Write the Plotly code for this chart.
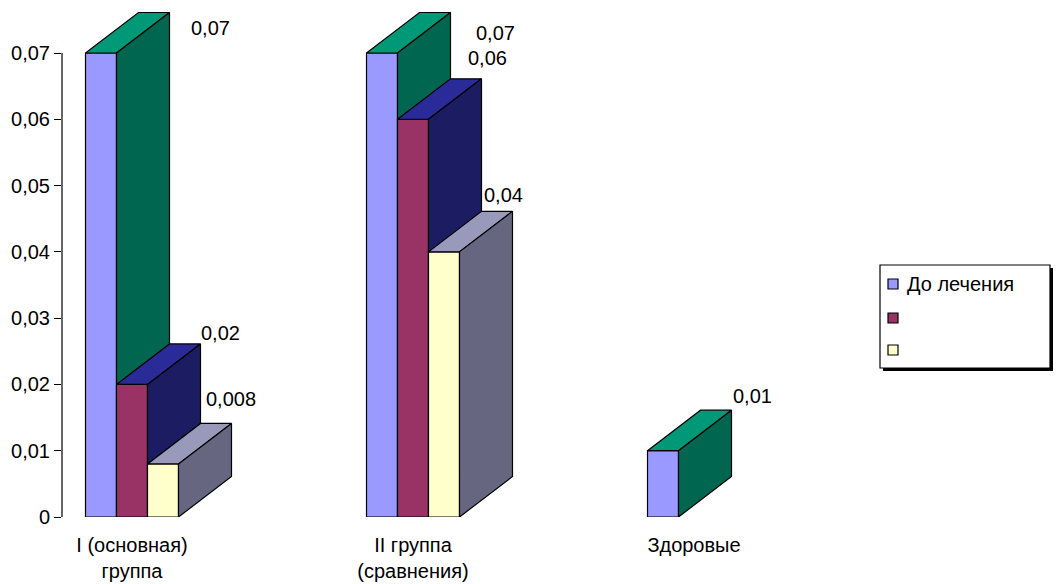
import plotly.graph_objects as go

# --- data ---------------------------------------------------------------
categories = ["I (основная)<br>группа", "II группа<br>(сравнения)", "Здоровые"]
series_names = ["До лечения", "", ""]
before = [0.07, 0.07, 0.01]
middle = [0.02, 0.06, None]
after = [0.008, 0.04, None]
y_ticks = [0, 0.01, 0.02, 0.03, 0.04, 0.05, 0.06, 0.07]
y_tick_text = ["0", "0,01", "0,02", "0,03", "0,04", "0,05", "0,06", "0,07"]

series_values = [before, middle, after]

# --- styling ------------------------------------------------------------
FONT = "Liberation Sans, Arial, sans-serif"
face_colors = [
    # front, top, side
    ("#9999FF", "#009977", "#006650"),
    ("#993366", "#2A2A99", "#1C1C62"),
    ("#FFFFCC", "#9999BB", "#666680"),
]

# pixel geometry of the drawing area
PLOT_L, PLOT_R, PLOT_T, PLOT_B = 62, 862, 0, 517
PX_PER_X = 281.0          # pixels per category step
PX_PER_Y = 6628.6         # pixels per value unit
BAR_W = 31 / PX_PER_X     # bar width in category units
DEPTH_X = 53 / PX_PER_X   # 3-D depth offset, horizontal
DEPTH_Y = 40.5 / PX_PER_Y # 3-D depth offset, vertical

x_min = -(132 - PLOT_L) / PX_PER_X
x_max = x_min + (PLOT_R - PLOT_L) / PX_PER_X
y_max = (PLOT_B - PLOT_T) / PX_PER_Y

# pixel shifts of value labels from each bar's back-top-right corner
label_shift = [
    [(41, -15), (45, -20), (21, 14)],
    [(20, 11), (6, 21), None],
    [(-1, 24), (-9, 16), None],
]

# legend box (pixels): left, top, right, bottom and row centres
LEG_L, LEG_T, LEG_R, LEG_B = 880, 265, 1050, 368
LEG_ROWS = [284, 318, 350]
LEG_SWATCH = 10


def px_to_paper_x(px):
    return (px - PLOT_L) / (PLOT_R - PLOT_L)


def px_to_paper_y(py):
    return (PLOT_B - py) / (PLOT_B - PLOT_T)


fig = go.Figure()
annotations = []

for s, values in enumerate(series_values):
    fronts_x, fronts_y, tops_x, tops_y, sides_x, sides_y = [], [], [], [], [], []
    for g, v in enumerate(values):
        if v is None:
            continue
        x0 = g - 1.5 * BAR_W + s * BAR_W
        x1 = x0 + BAR_W
        fronts_x += [x0, x1, x1, x0, x0, None]
        fronts_y += [0, 0, v, v, 0, None]
        tops_x += [x0, x1, x1 + DEPTH_X, x0 + DEPTH_X, x0, None]
        tops_y += [v, v, v + DEPTH_Y, v + DEPTH_Y, v, None]
        sides_x += [x1, x1 + DEPTH_X, x1 + DEPTH_X, x1, x1, None]
        sides_y += [0, DEPTH_Y, v + DEPTH_Y, v, 0, None]

        dx_px, dy_px = label_shift[s][g]
        annotations.append(dict(
            x=x1 + DEPTH_X, y=v + DEPTH_Y, xref="x", yref="y",
            text=f"{v:g}".replace(".", ","), showarrow=False,
            xshift=dx_px, yshift=dy_px,
            font=dict(family=FONT, size=20, color="black"),
        ))

    for xs, ys, col in ((fronts_x, fronts_y, face_colors[s][0]),
                        (tops_x, tops_y, face_colors[s][1]),
                        (sides_x, sides_y, face_colors[s][2])):
        fig.add_trace(go.Scatter(
            x=xs, y=ys, mode="lines", fill="toself", fillcolor=col,
            line=dict(color="black", width=1.2), showlegend=False,
            hoverinfo="skip", name=series_names[s] or f"series {s + 1}",
        ))

shapes = [
    # value axis line
    dict(type="line", xref="paper", yref="y", x0=0, x1=0, y0=0, y1=0.07,
         line=dict(color="black", width=1.2)),
    # legend drop shadow and frame
    dict(type="rect", xref="paper", yref="paper",
         x0=px_to_paper_x(LEG_L + 3), x1=px_to_paper_x(LEG_R + 3),
         y0=px_to_paper_y(LEG_B + 3), y1=px_to_paper_y(LEG_T + 3),
         fillcolor="black", line=dict(width=0), layer="above"),
    dict(type="rect", xref="paper", yref="paper",
         x0=px_to_paper_x(LEG_L), x1=px_to_paper_x(LEG_R),
         y0=px_to_paper_y(LEG_B), y1=px_to_paper_y(LEG_T),
         fillcolor="white", line=dict(color="black", width=1.2), layer="above"),
]

# legend swatches and labels
for s, (name, row) in enumerate(zip(series_names, LEG_ROWS)):
    sx0 = LEG_L + 8
    shapes.append(dict(
        type="rect", xref="paper", yref="paper",
        x0=px_to_paper_x(sx0), x1=px_to_paper_x(sx0 + LEG_SWATCH),
        y0=px_to_paper_y(row + LEG_SWATCH / 2), y1=px_to_paper_y(row - LEG_SWATCH / 2),
        fillcolor=face_colors[s][0], line=dict(color="black", width=1.2),
        layer="above",
    ))
    if name:
        annotations.append(dict(
            x=px_to_paper_x(sx0 + LEG_SWATCH + 7), y=px_to_paper_y(row),
            xref="paper", yref="paper", xanchor="left", yanchor="middle",
            text=name, showarrow=False,
            font=dict(family=FONT, size=20, color="black"),
        ))

fig.update_layout(
    width=1057, height=584,
    margin=dict(l=PLOT_L, r=1057 - PLOT_R, t=PLOT_T, b=584 - PLOT_B, pad=0),
    paper_bgcolor="white", plot_bgcolor="white",
    font=dict(family=FONT, size=20, color="black"),
    xaxis=dict(range=[x_min, x_max], tickmode="array", tickvals=[0, 1, 2],
               ticktext=categories, showgrid=False, zeroline=False,
               showline=False, ticks="", tickfont=dict(size=20),
               ticklabelstandoff=14),
    yaxis=dict(range=[0, y_max], tickmode="array", tickvals=y_ticks,
               ticktext=y_tick_text, showgrid=False, zeroline=False,
               showline=False, ticks="outside", ticklen=7, tickwidth=1.2,
               tickcolor="black", tickfont=dict(size=20)),
    shapes=shapes,
    annotations=annotations,
    showlegend=False,
)

fig.write_html("out.html")
